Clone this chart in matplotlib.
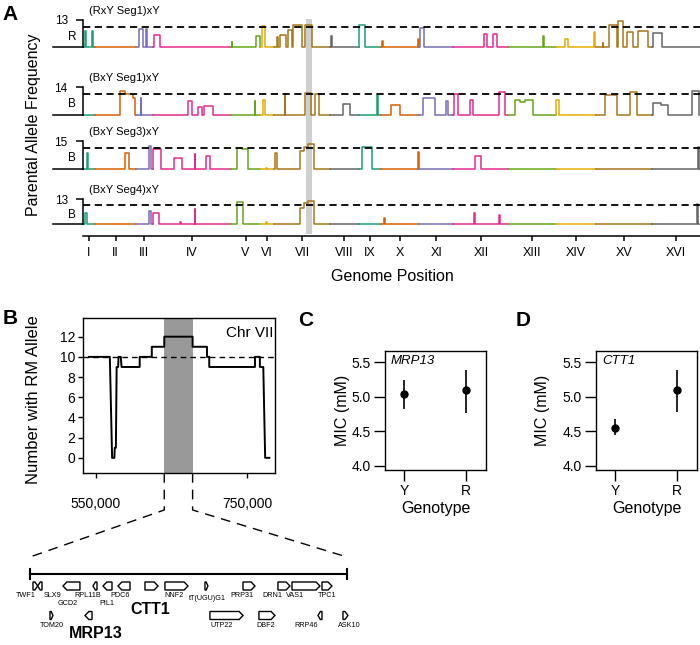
import numpy as np
import matplotlib
matplotlib.use('Agg')
import matplotlib.pyplot as plt
import matplotlib.transforms as mtransforms
from matplotlib.patches import Polygon
from matplotlib.lines import Line2D

plt.rcParams['font.family'] = ['Liberation Sans', 'DejaVu Sans']

# ---------------- data ----------------
chrom_names = ['I', 'II', 'III', 'IV', 'V', 'VI', 'VII', 'VIII',
               'IX', 'X', 'XI', 'XII', 'XIII', 'XIV', 'XV', 'XVI']
chrom_kb = [230, 813, 317, 1532, 577, 270, 1091, 563,
            440, 745, 667, 1078, 924, 784, 1091, 948]
dark2 = ['#1B9E77', '#D95F02', '#7570B3', '#E7298A',
         '#66A61E', '#E6AB02', '#A6761D', '#666666']

track_names = ['(RxY Seg1)xY', '(BxY Seg1)xY', '(BxY Seg3)xY', '(BxY Seg4)xY']
track_parent = ['R', 'B', 'B', 'B']
track_max = [13, 14, 15, 13]

# peaks: (start Mb, end Mb, count) genome-wide
peaks_rxy1 = [(0.04, 0.06, 11.3), (0.18, 0.20, 11.3), (1.10, 1.17, 11.7), (1.23, 1.25, 11.7),
              (1.38, 1.51, 10.8), (2.91, 2.92, 9.8), (3.38, 3.46, 10.7), (3.50, 3.56, 12.1),
              (3.79, 3.81, 10.5), (3.85, 3.97, 10.8), (4.01, 4.09, 11.5), (4.11, 4.28, 12.2),
              (4.34, 4.48, 12.3), (4.86, 4.87, 10.6), (5.40, 5.52, 12.3), (5.85, 5.86, 9.9),
              (6.55, 6.57, 10.2), (6.59, 6.67, 11.8), (7.84, 7.90, 10.9), (8.02, 8.10, 10.9),
              (9.00, 9.01, 10.6), (9.43, 9.49, 10.2), (10.00, 10.02, 11.2), (10.17, 10.18, 9.6),
              (10.29, 10.45, 12.3), (10.46, 10.56, 12.8), (10.64, 10.76, 11.2),
              (10.86, 11.05, 11.4), (11.15, 11.33, 11.1)]
peaks_bxy1 = [(0.72, 0.82, 13.5), (0.82, 0.98, 13.0), (0.98, 1.02, 12.4), (1.13, 1.14, 12.4),
              (2.05, 2.13, 12.0), (2.25, 2.33, 11.2), (2.37, 2.54, 11.3), (3.36, 3.37, 12.0),
              (3.52, 3.56, 12.1), (3.95, 3.96, 13.0), (4.34, 4.46, 13.2), (4.54, 4.62, 13.0),
              (5.09, 5.22, 11.6), (5.75, 5.77, 12.8), (6.02, 6.20, 11.5), (6.65, 6.89, 12.5),
              (7.10, 7.14, 12.0), (7.25, 7.34, 13.0), (7.57, 7.63, 12.2), (8.14, 8.25, 13.3),
              (8.45, 8.55, 12.2), (8.55, 8.65, 11.8), (8.65, 8.80, 12.1), (9.25, 9.31, 12.2),
              (10.21, 10.45, 12.8), (10.70, 10.84, 13.3), (11.15, 11.30, 11.7),
              (11.30, 11.45, 11.4), (11.92, 12.05, 13.4)]
peaks_bxy3 = [(0.08, 0.10, 13.3), (0.82, 0.90, 13.3), (1.29, 1.33, 14.3), (1.37, 1.53, 13.8),
              (1.78, 1.94, 12.6), (2.19, 2.20, 13.1), (2.41, 2.48, 12.8), (3.01, 3.11, 14.0),
              (3.11, 3.23, 13.8), (3.58, 3.59, 11.2), (3.76, 3.79, 13.3), (4.24, 4.32, 13.6),
              (4.32, 4.40, 14.2), (4.40, 4.52, 14.6), (5.46, 5.65, 14.2), (6.56, 6.57, 13.5),
              (7.67, 7.78, 12.9), (12.03, 12.05, 14.1)]
peaks_bxy4 = [(0.04, 0.08, 10.8), (1.29, 1.33, 11.1), (1.37, 1.49, 10.7), (1.90, 1.91, 9.4),
              (2.19, 2.20, 11.4), (3.01, 3.13, 12.6), (3.58, 3.59, 9.3), (4.24, 4.32, 11.5),
              (4.32, 4.40, 12.4), (4.40, 4.52, 12.7), (5.89, 5.90, 9.9), (7.65, 7.66, 10.7),
              (8.14, 8.15, 10.4), (12.01, 12.03, 12.2)]
track_peaks = [peaks_rxy1, peaks_bxy1, peaks_bxy3, peaks_bxy4]
a_band = (4.36, 4.48)

# panel B: chr VII scan
b_pos_kb = [541, 568.5, 571.5, 574.5, 575, 576.5, 577.5, 579.5, 580, 583,
            584, 608, 608, 624, 624, 640.5, 640.5, 678, 678, 697,
            697, 700, 700, 760.5, 760.5, 767, 767, 771.5, 774, 779.5]
b_count = [10, 10, 0, 0, 1, 1, 9, 9, 10, 10,
           9, 9, 10, 10, 11, 11, 12, 12, 11, 11,
           10, 10, 9, 9, 10, 10, 9, 9, 0, 0]
b_band = (640.5, 678)

# genes in the interval (kb), strand, row
gene_names = ['TWF1', 'SLX9', 'GCD2', 'RPL11B', 'PIL1', 'PDC6', 'CTT1', 'NNF2', 'tT(UGU)G1',
              'PRP31', 'DRN1', 'VAS1', 'TPC1', 'TOM20', 'MRP13', 'UTP22', 'DBF2', 'RRP46', 'ASK10']
gene_start = [640.35, 640.9, 643.85, 647.35, 648.52, 650.27, 653.42, 655.75, 660.42,
              664.86, 668.94, 670.58, 674.08, 642.33, 646.42, 661.0, 666.72, 673.61, 676.53]
gene_end = [640.9, 641.4, 645.83, 647.82, 649.57, 651.67, 654.94, 658.44, 660.77,
            666.26, 670.34, 673.84, 675.24, 642.68, 647.24, 664.86, 668.59, 674.08, 677.11]
gene_strand = [1, -1, -1, -1, -1, -1, 1, 1, 1, 1, 1, 1, 1, 1, -1, 1, 1, -1, 1]
gene_row = [0, 0, 0, 0, 0, 0, 0, 0, 0, 0, 0, 0, 0, 1, 1, 1, 1, 1, 1]

# panels C, D
genotype = ['Y', 'R']
mrp13_mean = [5.04, 5.10]
mrp13_lo = [4.82, 4.77]
mrp13_hi = [5.24, 5.39]
ctt1_mean = [4.55, 5.09]
ctt1_lo = [4.44, 4.78]
ctt1_hi = [4.67, 5.39]

# ---------------- layout ----------------
W, H = 700, 645
fig = plt.figure(figsize=(7, 6.45), dpi=100)


def add_ax(x0, y0, x1, y1):
    return fig.add_axes([x0 / W, 1 - y1 / H, (x1 - x0) / W, (y1 - y0) / H])


def ftext(x, y, s, **kw):
    kw.setdefault('ha', 'center')
    kw.setdefault('va', 'center')
    return fig.text(x / W, 1 - y / H, s, **kw)


def chrom_trace(lo, hi, pk, base):
    xs, ys = [lo], [base]
    last_end = None
    for s, e, v in sorted(pk):
        if last_end is not None and abs(s - last_end) < 1e-6:
            xs.pop()
            ys.pop()
        else:
            xs.append(s)
            ys.append(base)
        xs += [s, e, e]
        ys += [v, v, base]
        last_end = e
    xs.append(hi)
    ys.append(base)
    return xs, ys


# ---------------- panel A ----------------
chrom_end = np.cumsum(chrom_kb) / 1000.0
chrom_start = chrom_end - np.array(chrom_kb) / 1000.0
chrom_mid = (chrom_start + chrom_end) / 2
total = chrom_end[-1]

band_ax = add_ax(83, 19, 700, 234)
band_ax.set_xlim(0, total)
band_ax.axis('off')
band_ax.axvspan(*a_band, color='#cfcfcf', lw=0)

track_px = [(20, 47), (87, 115), (141, 169), (199, 224)]
for i, (top, bot) in enumerate(track_px):
    ax = add_ax(83, top, 700, bot)
    ax.patch.set_visible(False)
    N = track_max[i]
    base = N - 4
    ax.set_xlim(0, total)
    ax.set_ylim(base, N)
    pk = track_peaks[i]
    for c in range(len(chrom_names)):
        sub = [p for p in pk if chrom_start[c] <= (p[0] + p[1]) / 2 < chrom_end[c]]
        xs, ys = chrom_trace(chrom_start[c], chrom_end[c], sub, base)
        ax.plot(xs, ys, color=dark2[c % 8], lw=1.1, clip_on=False)
    ax.axhline(N - 1, color='k', lw=1.3, ls=(0, (4, 2.5)), zorder=3)
    for sp in ['top', 'right', 'bottom']:
        ax.spines[sp].set_visible(False)
    ax.spines['left'].set_bounds(base, N)
    ax.spines['left'].set_linewidth(1.1)
    ax.set_yticks([N], [str(N)])
    ax.tick_params(axis='y', length=5, width=1.1, pad=6, labelsize=8.5)
    tr = mtransforms.blended_transform_factory(ax.transAxes, ax.transData)
    ax.plot([-30 / 617, 0], [base, base], color='k', lw=1.1, transform=tr, clip_on=False)
    ax.text(-11 / 617, 0.38, track_parent[i], transform=ax.transAxes,
            ha='center', va='center', fontsize=8.5)
    ax.annotate(track_names[i], xy=(0, 1), xycoords='axes fraction', xytext=(4.3, 6.8),
                textcoords='offset points', ha='left', va='center', fontsize=8)
    if i == 3:
        ax.spines['bottom'].set_visible(True)
        ax.spines['bottom'].set_position(('outward', 8.6))
        ax.spines['bottom'].set_linewidth(1.1)
        ax.set_xticks(chrom_mid, chrom_names)
        ax.tick_params(axis='x', length=3.6, width=1.1, pad=4, labelsize=9)
    else:
        ax.set_xticks([])

ftext(392, 276, 'Genome Position', fontsize=11.5)
ftext(34, 125, 'Parental Allele Frequency', fontsize=11.5, rotation=90)

# ---------------- panel B ----------------
axB = add_ax(83, 318, 275, 473)
axB.axvspan(b_band[0] * 1000, b_band[1] * 1000, color='#999999', lw=0)
axB.plot(np.array(b_pos_kb) * 1000, b_count, color='k', lw=1.4)
axB.axhline(10, color='k', lw=1, ls=(0, (4, 3)))
axB.set_xlim(533e3, 787e3)
axB.set_ylim(-1.5, 13.85)
axB.set_yticks(range(0, 13, 2))
axB.set_xticks([550000, 750000], ['550,000', '750,000'])
axB.tick_params(length=3.6, width=1, labelsize=10, pad=2)
axB.tick_params(axis='x', pad=14)
for sp in axB.spines.values():
    sp.set_linewidth(1)
axB.text(0.99, 0.906, 'Chr VII', transform=axB.transAxes, ha='right', va='center', fontsize=11)
ftext(34, 400, 'Number with RM Allele', fontsize=12, rotation=90)

# ---------------- gene map ----------------
axG = add_ax(30, 560, 347, 645)
axG.set_xlim(640, 677)
axG.set_ylim(645, 560)
axG.axis('off')
axG.plot([640, 677], [574, 574], color='k', lw=1.5, clip_on=False)
axG.plot([640, 640], [569, 579], color='k', lw=1.5, clip_on=False)
axG.plot([677, 677], [569, 579], color='k', lw=1.5, clip_on=False)

row_y = [586, 615.5]
tip = 0.45
for g in range(len(gene_names)):
    s, e, st = gene_start[g], gene_end[g], gene_strand[g]
    yc = row_y[gene_row[g]]
    hh = 4
    t = min(tip, (e - s) * 0.6)
    if st > 0:
        pts = [(s, yc - hh), (e - t, yc - hh), (e, yc), (e - t, yc + hh), (s, yc + hh)]
    else:
        pts = [(e, yc - hh), (s + t, yc - hh), (s, yc), (s + t, yc + hh), (e, yc + hh)]
    axG.add_patch(Polygon(pts, closed=True, facecolor='white', edgecolor='k', lw=1,
                          clip_on=False))

label_pos = {'TWF1': (639.5, 595.5), 'SLX9': (642.6, 595.5), 'GCD2': (644.4, 603.5),
             'RPL11B': (646.7, 595.5), 'PIL1': (649.0, 603.5), 'PDC6': (650.5, 595.5),
             'CTT1': (654.0, 609.5), 'NNF2': (656.8, 595.5), 'tT(UGU)G1': (660.7, 599),
             'PRP31': (664.7, 595.5), 'DRN1': (668.3, 595.5), 'VAS1': (670.9, 595.5),
             'TPC1': (674.7, 595.5), 'TOM20': (642.5, 625.5), 'MRP13': (647.7, 634),
             'UTP22': (662.4, 625.5), 'DBF2': (667.5, 625.5), 'RRP46': (672.2, 625.5),
             'ASK10': (677.3, 625.5)}
for name in gene_names:
    lx, ly = label_pos[name]
    if name in ('CTT1', 'MRP13'):
        axG.text(lx, ly, name, ha='center', va='center', fontsize=11.5, weight='bold',
                 clip_on=False)
    else:
        axG.text(lx, ly, name, ha='center', va='center', fontsize=5.2, clip_on=False)

# connector lines from B band to gene map
to_fig = fig.transFigure.inverted()
for bx, gx in [(b_band[0] * 1000, 640), (b_band[1] * 1000, 677)]:
    p0 = axB.transData.transform((bx, axB.get_ylim()[0]))
    p2 = axG.transData.transform((gx, 557))
    p1 = (p0[0], p0[1] - 37)
    pts = to_fig.transform([p0, p1, p2])
    fig.add_artist(Line2D(pts[:, 0], pts[:, 1], transform=fig.transFigure, color='k',
                          lw=1.0, ls=(0, (7, 5))))

# ---------------- panels C, D ----------------
for (x0, x1), mean, lo, hi, gene, ylx in [((385, 486), mrp13_mean, mrp13_lo, mrp13_hi, 'MRP13', 343),
                                         ((596, 697), ctt1_mean, ctt1_lo, ctt1_hi, 'CTT1', 543)]:
    ax = add_ax(x0, 351, x1, 470)
    xs = np.arange(1, len(genotype) + 1)
    ax.vlines(xs, lo, hi, color='k', lw=1.2)
    ax.plot(xs, mean, 'o', color='k', ms=5)
    ax.set_xlim(0.69, 2.32)
    ax.set_ylim(3.94, 5.66)
    ax.set_yticks([4.0, 4.5, 5.0, 5.5], ['4.0', '4.5', '5.0', '5.5'])
    ax.set_xticks(xs, genotype)
    ax.tick_params(length=8, width=1, labelsize=10, pad=2)
    for sp in ax.spines.values():
        sp.set_linewidth(1)
    ax.text(0.06, 0.916, gene, style='italic', transform=ax.transAxes, fontsize=9.5,
            va='center', ha='left')
    ftext(ylx, 410, 'MIC (mM)', fontsize=11.5, rotation=90)
    ftext((x0 + x1) / 2, 508, 'Genotype', fontsize=11.5)

ftext(10, 14, 'A', fontsize=15, weight='bold')
ftext(10, 318, 'B', fontsize=15, weight='bold')
ftext(306, 320, 'C', fontsize=15, weight='bold')
ftext(523, 320, 'D', fontsize=15, weight='bold')

fig.savefig('out.png', dpi=100)
